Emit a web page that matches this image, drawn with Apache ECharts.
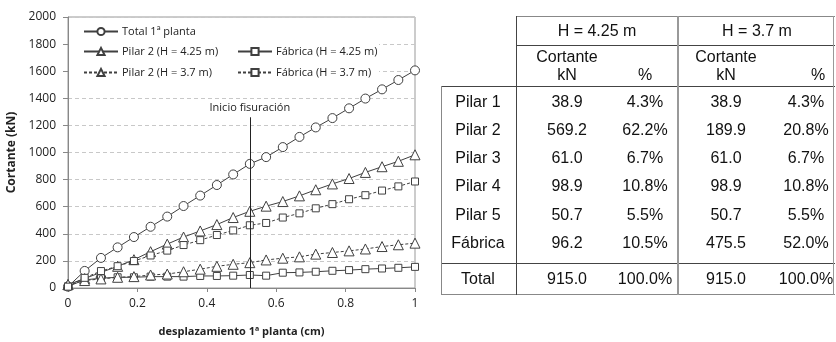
<!DOCTYPE html>
<html>
<head>
<meta charset="utf-8">
<script src="https://cdn.jsdelivr.net/npm/echarts@6/dist/echarts.min.js"></script>
<style>
html,body{margin:0;padding:0;background:#fff;}
#wrap{position:relative;width:836px;height:342px;overflow:hidden;background:#fff;}
#chart{position:absolute;left:0;top:0;width:836px;height:342px;}
#table{position:absolute;left:0;top:0;width:836px;height:342px;font-family:"Liberation Sans",Arial,sans-serif;font-size:16px;color:#111;}
.t{position:absolute;white-space:nowrap;transform:translate(-50%,-50%);line-height:1;}
.h{position:absolute;height:0;border-top:1px solid #666;}
.v{position:absolute;width:0;border-left:1px solid #666;}
</style>
</head>
<body>
<div id="wrap">
<div id="chart"></div>
<div id="table"></div>
</div>
<script>
// ---- chart data ----
const xDisp = [0, 0.048, 0.095, 0.143, 0.190, 0.238, 0.286, 0.333, 0.381, 0.429, 0.476, 0.524, 0.571, 0.619, 0.667, 0.714, 0.762, 0.810, 0.857, 0.905, 0.952, 1.0];
const totalPlanta = [10, 126, 222, 300, 376, 452, 527, 605, 682, 760, 838, 916, 966, 1040, 1115, 1185, 1254, 1326, 1398, 1466, 1535, 1606];
const pilar2H425 = [25, 70, 115, 160, 209, 268, 324, 376, 421, 468, 520, 566, 604, 638, 680, 725, 768, 808, 853, 895, 935, 983];
const fabricaH425 = [12, 60, 72, 79, 79, 84, 84, 84, 89, 89, 91, 96, 91, 113, 115, 120, 127, 132, 139, 144, 149, 156];
const pilar2H37 = [25, 55, 67, 79, 84, 96, 103, 120, 139, 160, 175, 187, 207, 220, 230, 250, 262, 274, 288, 306, 319, 331];
const fabricaH37 = [10, 75, 125, 161, 199, 240, 276, 317, 353, 391, 425, 463, 480, 520, 551, 588, 619, 655, 685, 719, 750, 786];
const seriesNames = ['Total 1ª planta', 'Pilar 2 (H = 4.25 m)', 'Fábrica (H = 4.25 m)', 'Pilar 2 (H = 3.7 m)', 'Fábrica (H = 3.7 m)'];
const crackX = [0.524];
const crackTop = [1260];
const crackLabel = ['Inicio fisuración'];
const xTicks = [0, 0.2, 0.4, 0.6, 0.8, 1];
const yTicks = [0, 200, 400, 600, 800, 1000, 1200, 1400, 1600, 1800, 2000];

// ---- table data ----
const groupHeaders = ['H = 4.25 m', 'H = 3.7 m'];
const rowLabels = ['Pilar 1', 'Pilar 2', 'Pilar 3', 'Pilar 4', 'Pilar 5', 'Fábrica'];
const kN425 = ['38.9', '569.2', '61.0', '98.9', '50.7', '96.2'];
const pct425 = ['4.3%', '62.2%', '6.7%', '10.8%', '5.5%', '10.5%'];
const kN37 = ['38.9', '189.9', '61.0', '98.9', '50.7', '475.5'];
const pct37 = ['4.3%', '20.8%', '6.7%', '10.8%', '5.5%', '52.0%'];
const totalRow = ['Total', '915.0', '100.0%', '915.0', '100.0%'];

const font = '"Open Sans", "Noto Sans", sans-serif';
const ink = '#404040';

function pts(arr){ return arr.map((v,i)=>[xDisp[i], v]); }
function mk(name, data, symbol, size, dashed){
  return {
    name, type:'line', data: pts(data), symbol, symbolSize: size,
    lineStyle:{color:ink, width:1, type: dashed ? [3,2] : 'solid'},
    itemStyle:{color:'#fff', borderColor:ink, borderWidth:1},
    emphasis:{disabled:true}, animation:false, z:3
  };
}
const series = [
  mk(seriesNames[0], totalPlanta, 'circle', 9, false),
  mk(seriesNames[1], pilar2H425, 'triangle', 10, false),
  mk(seriesNames[2], fabricaH425, 'rect', 7, false),
  mk(seriesNames[3], pilar2H37, 'triangle', 10, true),
  mk(seriesNames[4], fabricaH37, 'rect', 7, true),
  {
    type:'line', data:[], silent:true, animation:false,
    markLine:{
      silent:true, symbol:['none','none'], animation:false,
      lineStyle:{color:'#222', width:1, type:'solid'},
      label:{show:true, position:'end', formatter: crackLabel[0], color:'#222', fontFamily:font, fontSize:11, distance:4},
      data:[[{coord:[crackX[0], 0]}, {coord:[crackX[0], crackTop[0]]}]]
    }
  }
];

function leg(name, left, top){
  return {
    data:[name], left, top, orient:'horizontal', padding:0,
    itemWidth:34, itemHeight:9, itemGap:4, selectedMode:false,
    textStyle:{fontFamily:font, fontSize:11, color:'#222', padding:[0,0,0,-1]},
    z:5
  };
}

const chart = echarts.init(document.getElementById('chart'), null, {renderer:'canvas'});
chart.setOption({
  animation:false,
  backgroundColor:'#fff',
  grid:{left:68, right:421, top:17, bottom:47, show:true, borderColor:'#999', borderWidth:1, backgroundColor:'transparent'},
  xAxis:{
    type:'value', min:xTicks[0], max:xTicks[xTicks.length-1], interval:0.2,
    name:'desplazamiento 1ª planta (cm)', nameLocation:'middle', nameGap:38,
    nameTextStyle:{fontFamily:font, fontSize:11, fontWeight:'bold', color:'#222'},
    axisLine:{lineStyle:{color:'#888'}},
    axisTick:{show:true, inside:false, length:4, lineStyle:{color:'#888'}},
    axisLabel:{fontFamily:font, fontSize:12, color:'#222', margin:10, formatter:v=>String(+v.toFixed(1))},
    splitLine:{show:false}
  },
  yAxis:{
    type:'value', min:yTicks[0], max:yTicks[yTicks.length-1], interval:200,
    name:'Cortante (kN)', nameLocation:'middle', nameGap:50,
    nameTextStyle:{fontFamily:font, fontSize:12, fontWeight:'bold', color:'#222'},
    axisLine:{show:true, lineStyle:{color:'#888'}},
    axisTick:{show:true, inside:false, length:5, lineStyle:{color:'#888'}},
    axisLabel:{fontFamily:font, fontSize:12, color:'#222', margin:12, formatter:v=>String(Math.round(v))},
    splitLine:{show:true, lineStyle:{color:'#c8c8c8', type:[4,3]}}
  },
  legend:[
    leg(seriesNames[0], 83, 26),
    leg(seriesNames[1], 83, 46),
    leg(seriesNames[2], 237, 46),
    leg(seriesNames[3], 83, 67),
    leg(seriesNames[4], 237, 67)
  ],
  graphic:[{
    type:'rect', shape:{x:69, y:18, width:310, height:70},
    style:{fill:'#fff'}, z:1, silent:true
  }],
  series
});

// ---- table ----
const tb = document.getElementById('table');
function txt(s, x, y){ const d=document.createElement('div'); d.className='t'; d.textContent=s; d.style.left=x+'px'; d.style.top=y+'px'; tb.appendChild(d); }
function hl(x1, x2, y, c){ const d=document.createElement('div'); d.className='h'; d.style.left=x1+'px'; d.style.width=(x2-x1)+'px'; d.style.top=y+'px'; if(c) d.style.borderTopColor=c; tb.appendChild(d); }
function vl(x, y1, y2, c, w){ const d=document.createElement('div'); d.className='v'; d.style.left=x+'px'; d.style.top=y1+'px'; d.style.height=(y2-y1)+'px'; if(c) d.style.borderLeftColor=c; if(w) d.style.borderLeftWidth=w+'px'; tb.appendChild(d); }

const colX = {label:478, kn1:567, p1:645, kn2:726, p2:806};
const gx = [597, 757];
hl(516, 835, 16, '#888');
hl(516, 835, 45, '#444');
hl(441, 835, 86, '#444');
hl(441, 835, 263, '#444');
hl(441, 835, 294, '#888');
vl(441, 86, 295, '#888');
vl(516, 16, 295, '#444');
vl(677, 16, 295, '#999', 2);
vl(833, 16, 295, '#999');

txt(groupHeaders[0], gx[0], 31);
txt(groupHeaders[1], gx[1], 31);
txt('Cortante', colX.kn1, 57); txt('kN', colX.kn1, 75); txt('%', colX.p1, 75);
txt('Cortante', colX.kn2, 57); txt('kN', colX.kn2, 75); txt('%', colX.p2 + 12, 75);
rowLabels.forEach((lab, i) => {
  const y = 101.5 + i*28.3;
  txt(lab, colX.label, y);
  txt(kN425[i], colX.kn1, y);
  txt(pct425[i], colX.p1, y);
  txt(kN37[i], colX.kn2, y);
  txt(pct37[i], colX.p2, y);
});
txt(totalRow[0], colX.label, 278.5);
txt(totalRow[1], colX.kn1, 278.5);
txt(totalRow[2], colX.p1, 278.5);
txt(totalRow[3], colX.kn2, 278.5);
txt(totalRow[4], colX.p2, 278.5);
</script>
</body>
</html>
